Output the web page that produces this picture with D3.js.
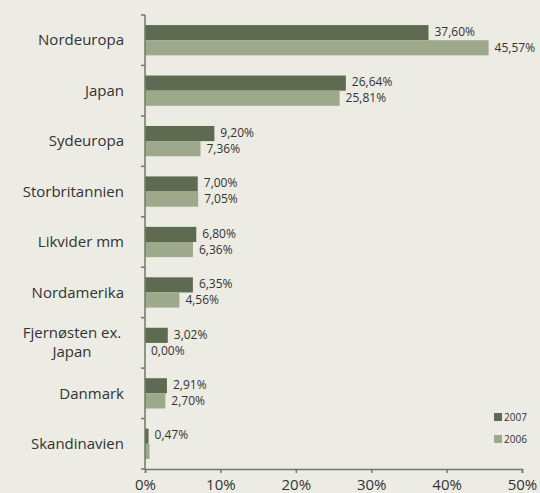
<!DOCTYPE html>
<html>
<head>
<meta charset="utf-8">
<script src="https://cdn.jsdelivr.net/npm/d3@7"></script>
<style>
  html, body { margin: 0; padding: 0; background: #ecebe4; }
  svg { display: block; font-family: "Open Sans", sans-serif; }
</style>
</head>
<body>
<div id="chart"></div>
<script>
// Data
const categories = ["Nordeuropa", "Japan", "Sydeuropa", "Storbritannien", "Likvider mm",
    "Nordamerika", "Fjernøsten ex. Japan", "Danmark", "Skandinavien"];
const values2007 = [37.60, 26.64, 9.20, 7.00, 6.80, 6.35, 3.02, 2.91, 0.47];
const values2006 = [45.57, 25.81, 7.36, 7.05, 6.36, 4.56, 0.00, 2.70, 0.60];
const labels2006 = ["45,57%", "25,81%", "7,36%", "7,05%", "6,36%", "4,56%", "0,00%", "2,70%", null];
const seriesNames = ["2007", "2006"];
const xTicks = [0, 10, 20, 30, 40, 50];

const colors = { "2007": "#5f6b50", "2006": "#9ea88b" };

const width = 540, height = 493;
const margin = { top: 15, right: 18, bottom: 24, left: 145 };

const svg = d3.select("#chart").append("svg")
    .attr("width", width)
    .attr("height", height);

const x = d3.scaleLinear()
    .domain([0, 50])
    .range([margin.left, width - margin.right]);

const y = d3.scaleBand()
    .domain(categories)
    .range([margin.top, height - margin.bottom])
    .paddingInner(0.4)
    .paddingOuter(0.2);

const fmt = v => v.toFixed(2).replace(".", ",") + "%";

// bars
const rows = svg.append("g").selectAll("g")
    .data(categories)
    .join("g")
    .attr("transform", d => `translate(0,${y(d)})`);

const barH = y.bandwidth() / 2;

rows.append("rect")
    .attr("x", x(0))
    .attr("y", 0)
    .attr("width", (d, i) => x(values2007[i]) - x(0))
    .attr("height", barH)
    .attr("fill", colors["2007"]);

rows.append("rect")
    .attr("x", x(0))
    .attr("y", barH)
    .attr("width", (d, i) => x(values2006[i]) - x(0))
    .attr("height", barH)
    .attr("fill", colors["2006"]);

// value labels
const maxX = width - 2;
rows.append("text")
    .attr("x", (d, i) => x(values2007[i]) + 6)
    .attr("y", barH / 2 - 1)
    .attr("dy", "0.35em")
    .style("font-size", "12px")
    .style("fill", "#333")
    .text((d, i) => fmt(values2007[i]));

rows.append("text")
    .attr("x", (d, i) => x(values2006[i]) + 6)
    .attr("y", barH * 1.5)
    .attr("dy", "0.35em")
    .style("font-size", "12px")
    .style("fill", "#333")
    .text((d, i) => labels2006[i] || "")
    .each(function () {
        const w = this.getComputedTextLength();
        const cur = +this.getAttribute("x");
        if (cur + w > maxX) this.setAttribute("x", maxX - w);
    });

// y axis
const yAxis = svg.append("g")
    .attr("transform", `translate(${x(0)},0)`);
yAxis.append("line")
    .attr("y1", margin.top).attr("y2", height - margin.bottom)
    .attr("stroke", "#6e7b60").attr("stroke-width", 1.5);
const yTicks = d3.range(categories.length + 1).map(i => margin.top + i * y.step());
yAxis.selectAll(".tick")
    .data(yTicks)
    .join("line")
    .attr("x1", -4).attr("x2", 0)
    .attr("y1", d => d).attr("y2", d => d)
    .attr("stroke", "#6e7b60").attr("stroke-width", 1.5);

// category labels
svg.append("g").selectAll("text")
    .data(categories)
    .join("text")
    .attr("y", d => y(d) + y.bandwidth() / 2)
    .style("font-size", "15px")
    .style("fill", "#333")
    .each(function (d) {
        const t = d3.select(this);
        if (d === "Fjernøsten ex. Japan") {
            t.attr("text-anchor", "middle");
            ["Fjernøsten ex.", "Japan"].forEach((p, j) => {
                t.append("tspan")
                    .attr("x", 72)
                    .attr("dy", j === 0 ? "-0.35em" : "1.3em")
                    .text(p);
            });
        } else {
            t.attr("x", 124).attr("text-anchor", "end").attr("dy", "0.35em").text(d);
        }
    });

// x axis
const xAxis = svg.append("g")
    .attr("transform", `translate(0,${height - margin.bottom})`)
    .call(d3.axisBottom(x).tickValues(xTicks).tickSize(4).tickFormat(d => d + "%"));
xAxis.select(".domain").attr("stroke", "#6e7b60").attr("stroke-width", 1.5);
xAxis.selectAll(".tick line").attr("stroke", "#6e7b60").attr("stroke-width", 1.5);
xAxis.selectAll(".tick text")
    .attr("y", 10)
    .style("font-size", "15px")
    .style("font-family", "'Open Sans', sans-serif")
    .style("fill", "#333");

// legend
const legend = svg.append("g")
    .attr("transform", "translate(494,413)");
legend.selectAll("g")
    .data(seriesNames)
    .join("g")
    .attr("transform", (d, i) => `translate(0,${i * 22})`)
    .call(g => {
        g.append("rect")
            .attr("width", 8)
            .attr("height", 8)
            .attr("fill", d => colors[d]);
        g.append("text")
            .attr("x", 10)
            .attr("y", 4)
            .attr("dy", "0.35em")
            .style("font-size", "10px")
            .style("fill", "#333")
            .text(d => d);
    });
</script>
</body>
</html>
